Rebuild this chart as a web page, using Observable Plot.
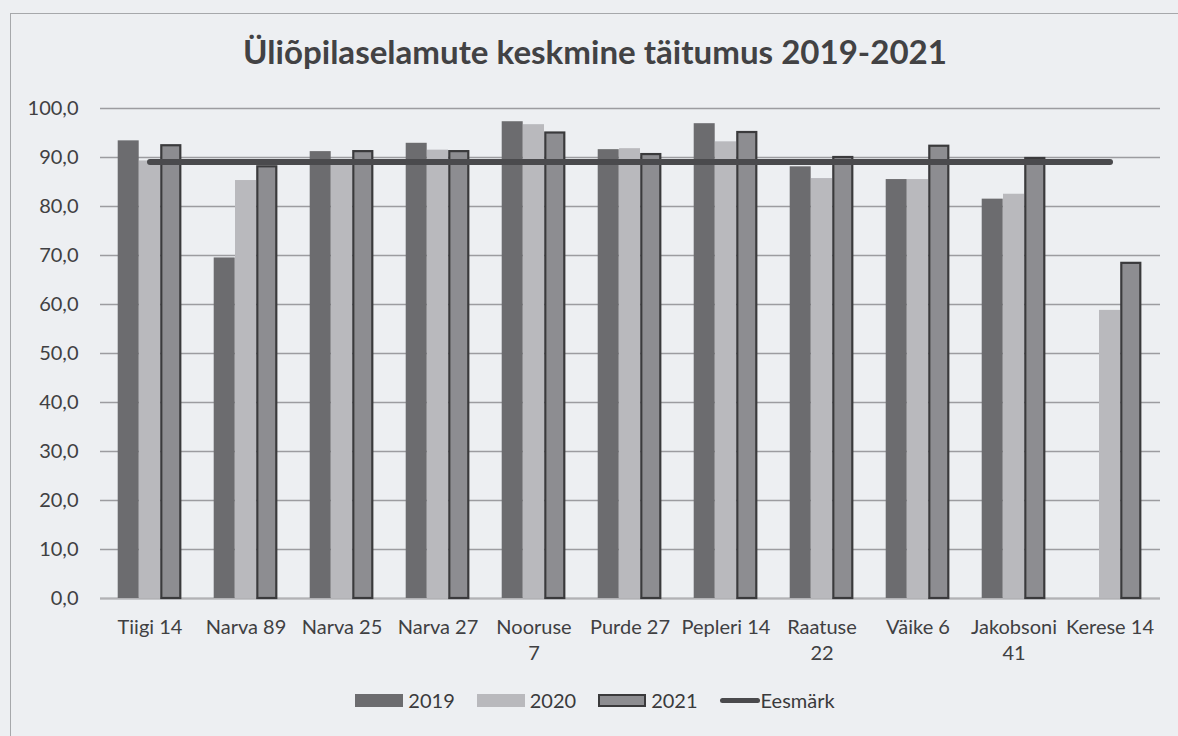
<!DOCTYPE html>
<html><head><meta charset="utf-8">
<script src="https://cdn.jsdelivr.net/npm/d3@7"></script>
<script src="https://cdn.jsdelivr.net/npm/@observablehq/plot@0.6"></script>
<style>
html,body{margin:0;padding:0;background:#edeff2;width:1178px;height:736px;overflow:hidden;font-family:Lato,"Open Sans",sans-serif;}
#frame{position:absolute;left:10px;top:13px;width:1300px;height:900px;border-left:1.5px solid #a6a8ab;border-top:1.5px solid #a6a8ab;}
#title{position:absolute;left:0;width:1190px;top:52px;transform:translateY(-50%);text-align:center;font-weight:bold;font-size:32px;color:#424244;line-height:1;white-space:nowrap;}
#chart{position:absolute;left:0;top:80px;}
#legend{position:absolute;top:688px;left:0;width:1190px;display:flex;justify-content:center;align-items:center;font-size:20px;color:#3a3a3c;}
.item{display:flex;align-items:center;margin:0 11px;}
.sw{display:inline-block;width:48px;height:13px;margin-right:5px;box-sizing:border-box;}
.ln{display:inline-block;width:40px;height:5px;border-radius:3px;background:#4a4a4d;margin-right:1px;}
</style></head>
<body>
<div id="frame"></div>
<div id="title">Üliõpilaselamute keskmine täitumus 2019-2021</div>
<div id="chart"></div>
<div id="legend"></div>
<script>
const categories = ["Tiigi 14","Narva 89","Narva 25","Narva 27","Nooruse 7","Purde 27","Pepleri 14","Raatuse 22","Väike 6","Jakobsoni 41","Kerese 14"];
const xTickLabels = ["Tiigi 14","Narva 89","Narva 25","Narva 27","Nooruse\n7","Purde 27","Pepleri 14","Raatuse\n22","Väike 6","Jakobsoni\n41","Kerese 14"];
const series = ["2019","2020","2021"];
const values2019 = [93.4,69.5,91.2,92.9,97.3,91.6,96.9,88.1,85.5,81.5,null];
const values2020 = [89.3,85.3,88.8,91.5,96.7,91.8,93.2,85.7,85.5,82.5,58.8];
const values2021 = [92.4,88.1,91.2,91.2,95.0,90.6,95.1,90.0,92.3,89.8,68.4];
const goalName = "Eesmärk";
const goalValues = [89.1,89.1,89.1,89.1,89.1,89.1,89.1,89.1,89.1,89.1,89.1];
const yTicks = [0,10,20,30,40,50,60,70,80,90,100];

const colors = {"2019":"#6c6c6f","2020":"#b9b9bd","2021":"#8d8d91"};
const stroke2021 = "#3a3a3c";
const goalColor = "#4a4a4d";

// fit title width
(function(){
  const t = document.getElementById("title");
  const ctx = document.createElement("canvas").getContext("2d");
  ctx.font = "bold 100px Lato";
  const w = ctx.measureText(t.textContent).width;
  if (w > 0) t.style.fontSize = (100 * 705 / w).toFixed(1) + "px";
})();

const W = 1178, H = 600, mL = 100, mR = 18;
const padInner = 0.779;
const step = (W - mL - mR) / categories.length;
const bw = step * (1 - padInner);

const rows = (vals) => categories.map((c,i)=>({cat:c, v:vals[i]})).filter(d=>d.v!=null);
const labelOf = new Map(categories.map((c,i)=>[c, xTickLabels[i]]));

const chart = Plot.plot({
  width: W, height: H, marginLeft: mL, marginRight: mR, marginTop: 28, marginBottom: 82,
  style: {background:"transparent", fontFamily:"Lato, 'Open Sans', sans-serif", fontSize:"20px", color:"#404042", overflow:"visible"},
  x: {domain: categories, paddingInner: padInner, paddingOuter: padInner/2, label: null},
  y: {domain: [0,100], label: null},
  marks: [
    Plot.gridY(yTicks, {stroke:"#9c9ca0", strokeOpacity:1, strokeWidth:1.5}),
    Plot.ruleY([0], {stroke:"#b2b2b5", strokeWidth:2}),
    Plot.barY(rows(values2019), {x:"cat", y:"v", dx:-bw, fill:colors["2019"]}),
    Plot.barY(rows(values2020), {x:"cat", y:"v", fill:colors["2020"]}),
    Plot.barY(rows(values2021), {x:"cat", y:"v", dx:bw, fill:colors["2021"], stroke:stroke2021, strokeWidth:2.2, insetLeft:1, insetRight:1}),
    Plot.lineY(categories.map((c,i)=>({cat:c, v:goalValues[i]})), {x:"cat", y:"v", stroke:goalColor, strokeWidth:6, strokeLinecap:"round"}),
    Plot.axisY(yTicks, {tickSize:0, tickPadding:22, tickFormat: d => d.toFixed(1).replace(".", ","), fontSize:20, label:null}),
    Plot.axisX({tickSize:0, tickPadding:17, tickFormat: d => labelOf.get(d), fontSize:20, lineHeight:1.3, label:null})
  ]
});
document.getElementById("chart").appendChild(chart);

const legend = document.getElementById("legend");
series.forEach(s => {
  const it = document.createElement("div"); it.className = "item";
  const sw = document.createElement("span"); sw.className = "sw";
  sw.style.background = colors[s];
  if (s === "2021") sw.style.border = "2px solid " + stroke2021;
  it.appendChild(sw);
  it.appendChild(document.createTextNode(s));
  legend.appendChild(it);
});
const gi = document.createElement("div"); gi.className = "item";
const ln = document.createElement("span"); ln.className = "ln";
gi.appendChild(ln); gi.appendChild(document.createTextNode(goalName));
legend.appendChild(gi);
</script>
</body></html>
